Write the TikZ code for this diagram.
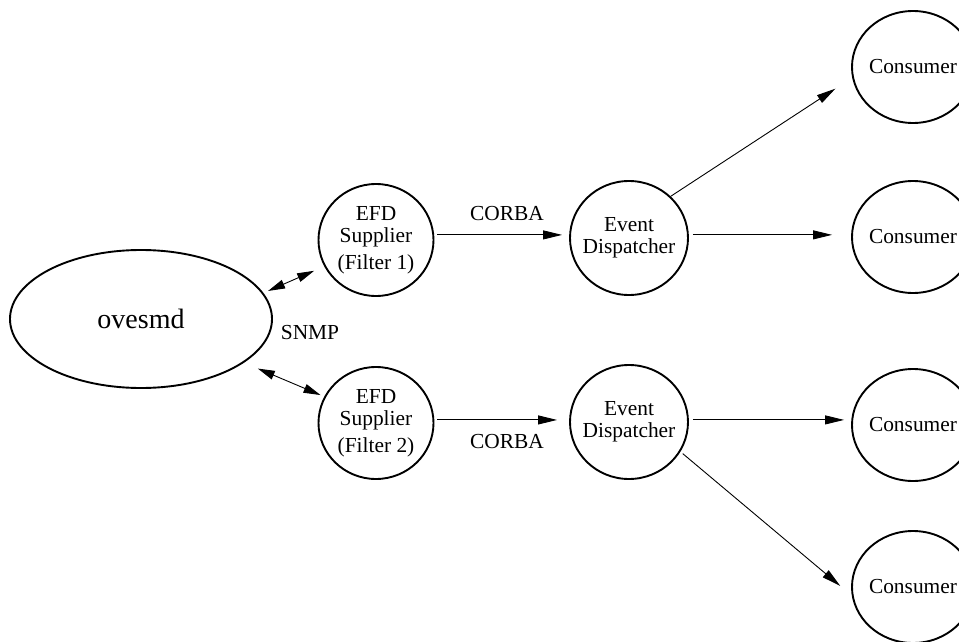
\documentclass[tikz,border=0pt]{standalone}
\usepackage{fontspec}
\setmainfont{Liberation Serif}
\usetikzlibrary{arrows.meta,shapes.geometric}
\begin{document}
\begin{tikzpicture}[x=1pt,y=-1pt,
  every node/.style={font=\fontsize{21.4}{22}\selectfont},
  proc/.style={draw,ellipse,line width=1.9pt,inner sep=0pt},
  tag/.style={label={[align=center]center:#1}},
  supplier/.style={proc,minimum width=115pt,minimum height=112pt},
  dispatcher/.style={proc,minimum width=118pt,minimum height=114pt},
  consumer/.style={proc,minimum width=122pt,minimum height=112pt},
  link/.style={line width=0.9pt,-{Triangle[length=19pt,width=9pt]}},
  duplex/.style={line width=0.9pt,{Triangle[length=17pt,width=9pt]}-{Triangle[length=17pt,width=9pt]}}
]
\useasboundingbox (0,0) rectangle (959,642);
\clip (0,0) rectangle (959,642);

% daemon
\node[proc,minimum width=262pt,minimum height=138pt,
      tag={\fontsize{28}{30}\selectfont ovesmd}] (ov) at (141,319) {};

% suppliers
\node[supplier,tag={EFD\\Supplier\\[5pt](Filter 1)}] (s1) at (376,240) {};
\node[supplier,tag={EFD\\Supplier\\[5pt](Filter 2)}] (s2) at (376,423) {};

% dispatchers
\node[dispatcher,tag={Event\\Dispatcher}] (d1) at (629,238) {};
\node[dispatcher,tag={Event\\Dispatcher}] (d2) at (629,422) {};

% consumers
\node[consumer,tag=Consumer] (c1) at (913,67) {};
\node[consumer,tag=Consumer] (c2) at (913,237) {};
\node[consumer,tag=Consumer] (c3) at (913,425) {};
\node[consumer,tag=Consumer] (c4) at (913,587) {};

% SNMP links
\draw[duplex,shorten <=5pt,shorten >=11pt] (ov.12) -- (s1.207);
\draw[duplex,shorten <=15pt,shorten >=4pt] (ov.-23) -- (s2.153);
\node (snmp) at (310,333) {SNMP};

% CORBA links
\draw[link,shorten <=3pt,shorten >=7pt] (s1.5) -- (s1.5 -| d1.west);
\draw[link,shorten <=3pt,shorten >=12pt] (s2.3) -- (s2.3 -| d2.west);
\node (corba1) at (507,214) {CORBA};
\node (corba2) at (507,442) {CORBA};

% distribution to consumers
\draw[link,shorten >=20pt] (d1.45) -- (c1.190);
\draw[link,shorten <=4pt,shorten >=19pt] (d1.3) -- (d1.3 -| c2.west);
\draw[link,shorten <=4pt,shorten >=7pt] (d2.2) -- (d2.2 -| c3.west);
\draw[link,shorten <=3pt,shorten >=15pt] (d2.-30) -- (c4.188);
\end{tikzpicture}
\end{document}
